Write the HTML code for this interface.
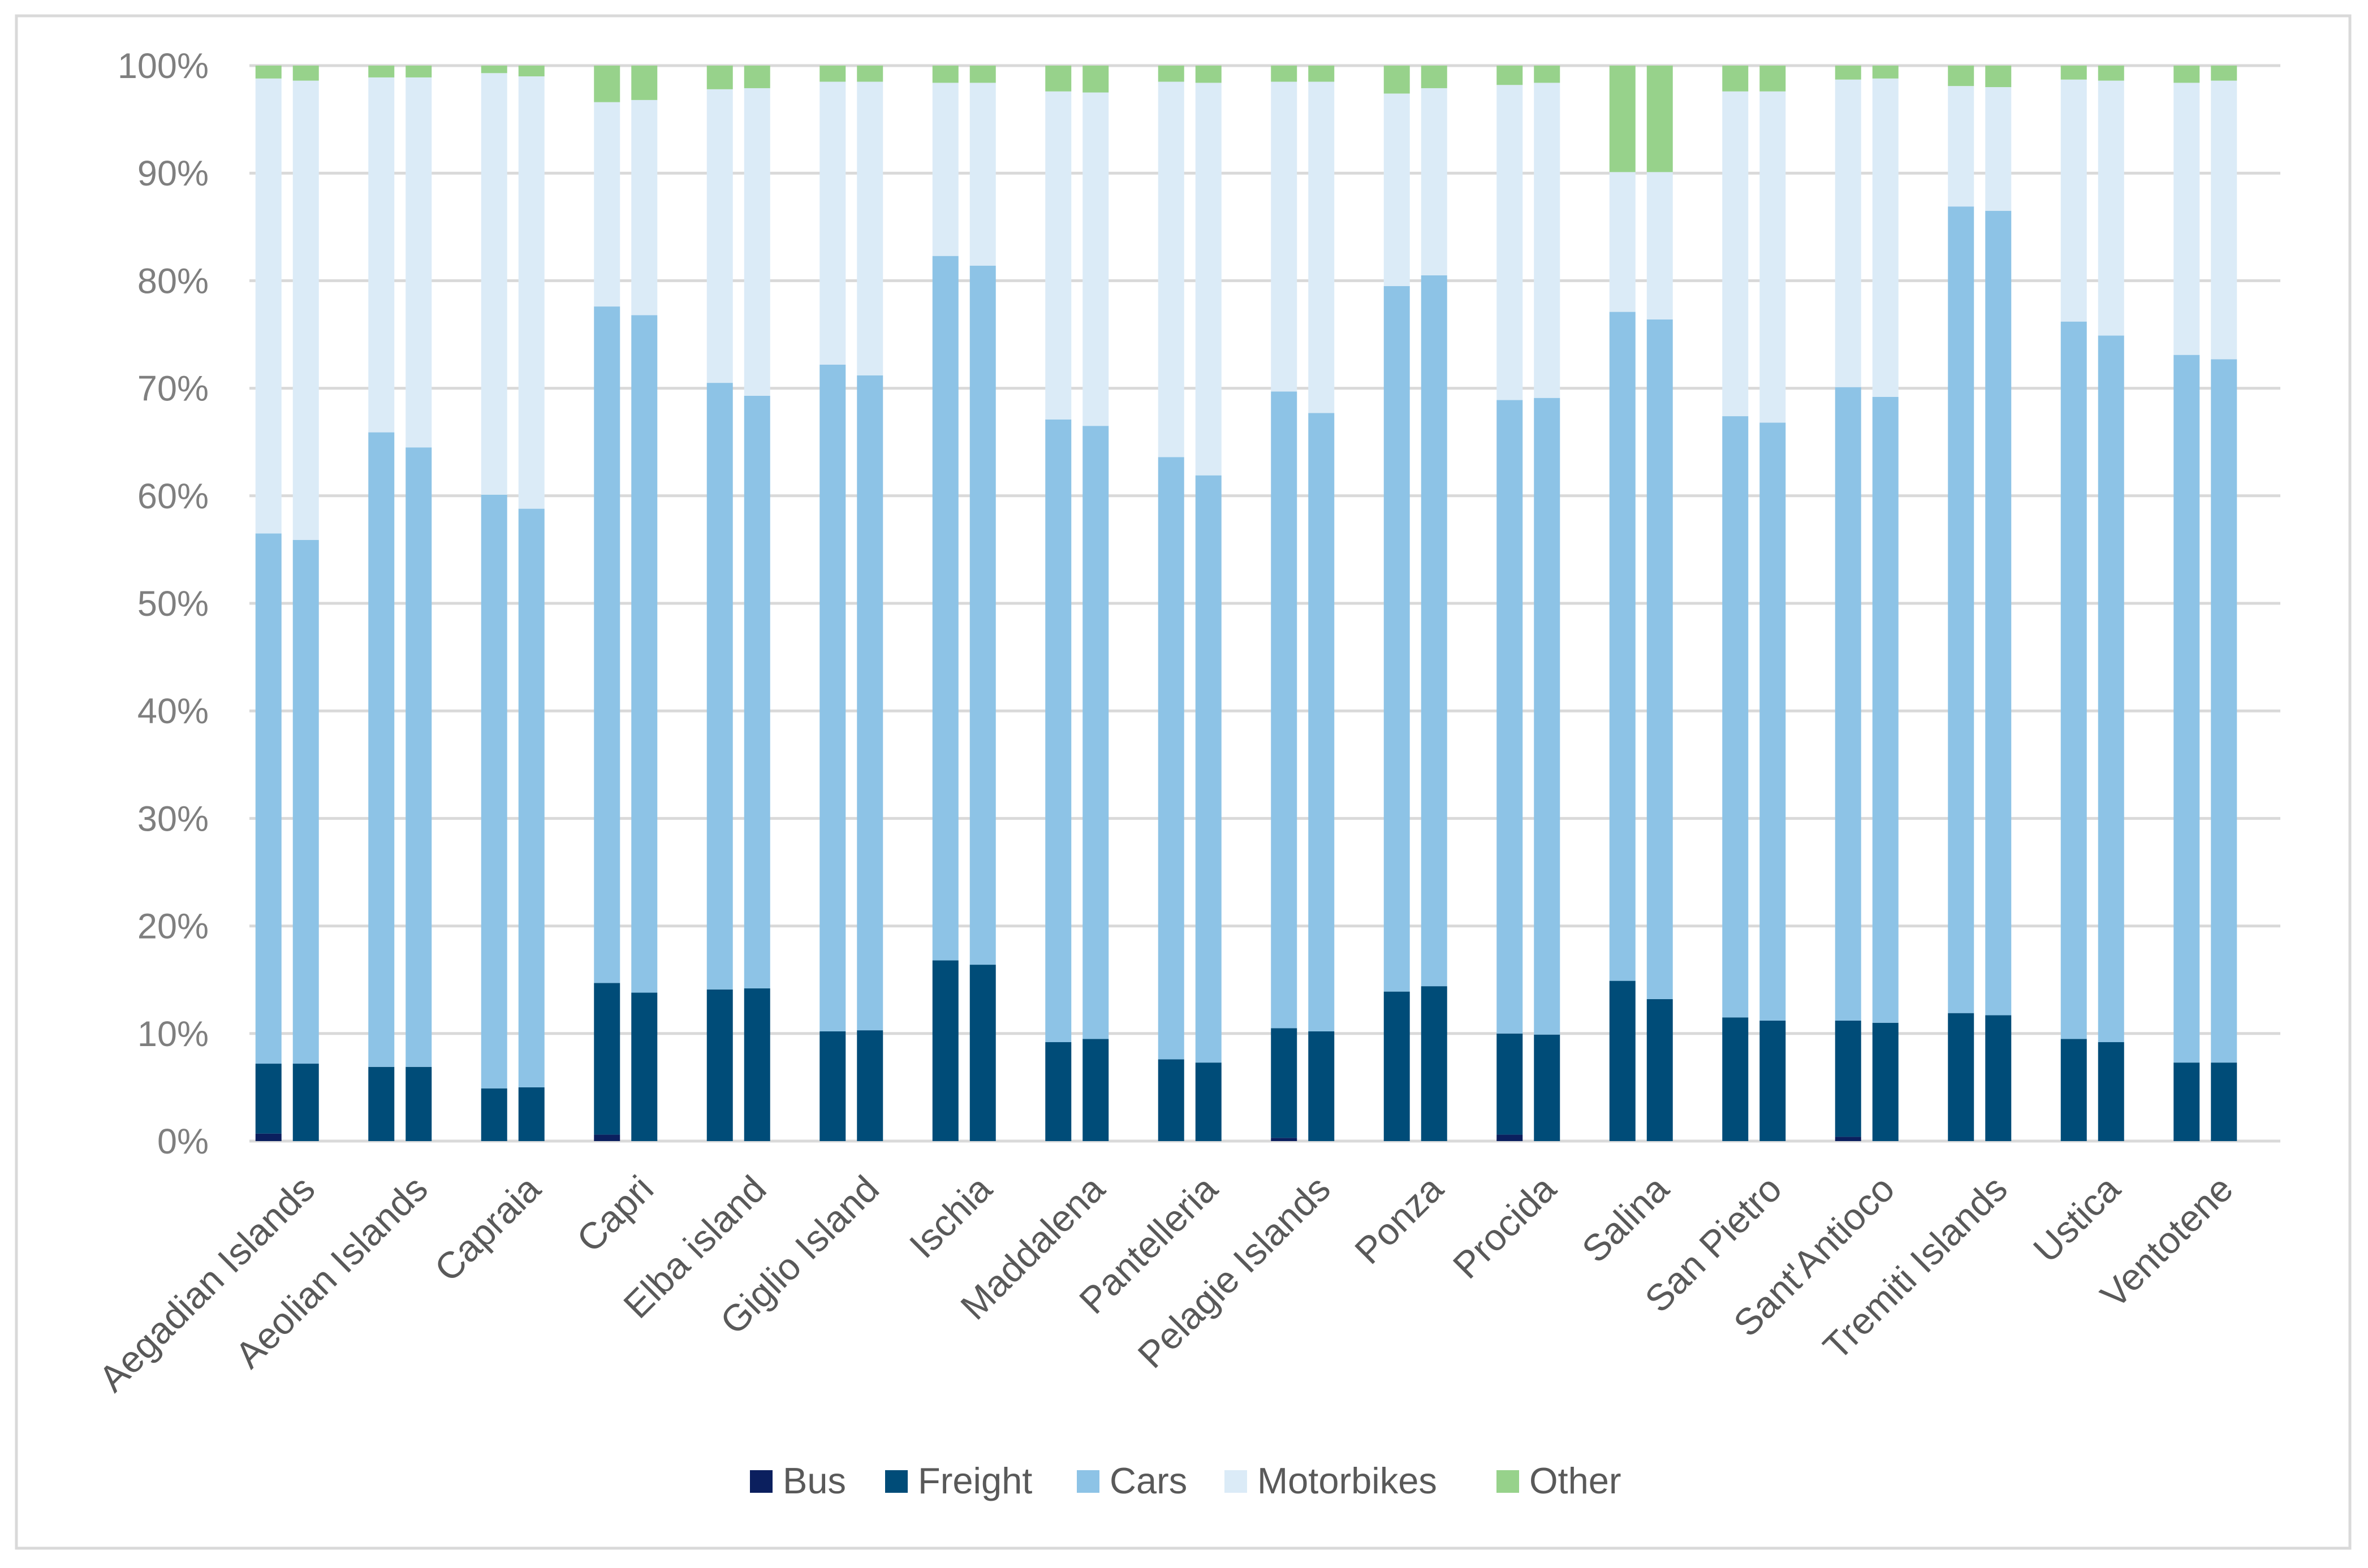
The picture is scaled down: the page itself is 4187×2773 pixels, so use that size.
<!DOCTYPE html>
<html><head><meta charset="utf-8"><style>
html,body{margin:0;padding:0;background:#fff;}
svg{display:block;font-family:"Liberation Sans",Arial,sans-serif;}
</style></head><body>
<svg id="chart" width="4187" height="2773" viewBox="0 0 4187 2773" xmlns="http://www.w3.org/2000/svg">
<rect x="0" y="0" width="4187" height="2773" fill="#fff"/>
<rect x="29" y="28" width="4126" height="2710" fill="none" stroke="#d9d9d9" stroke-width="5"/>
<g id="grid"></g>
<g id="yticks"></g>
<g id="bars"></g>
<g id="xlabels"></g>
<g id="legend"></g>
</svg>
<script>
const categories = ["Aegadian Islands","Aeolian Islands","Capraia","Capri","Elba island","Giglio Island","Ischia","Maddalena","Pantelleria","Pelagie Islands","Ponza","Procida","Salina","San Pietro","Sant'Antioco","Tremiti Islands","Ustica","Ventotene"];
const seriesNames = ["Bus","Freight","Cars","Motorbikes","Other"];
const yTickLabels = ["0%","10%","20%","30%","40%","50%","60%","70%","80%","90%","100%"];
const yTickValues = [0,10,20,30,40,50,60,70,80,90,100];
// first bar of each pair
const busA = [0.7,0,0,0.6,0,0,0,0,0,0.3,0,0.6,0,0,0.4,0,0,0];
const freightA = [6.5,6.9,4.9,14.1,14.1,10.2,16.8,9.2,7.6,10.2,13.9,9.4,14.9,11.5,10.8,11.9,9.5,7.3];
const carsA = [49.3,59.0,55.2,62.9,56.4,62.0,65.5,57.9,56.0,59.2,65.6,58.9,62.2,55.9,58.9,75.0,66.7,65.8];
const motoA = [42.3,33.0,39.2,19.0,27.3,26.3,16.1,30.5,34.9,28.8,17.9,29.3,13.0,30.2,28.6,11.2,22.5,25.3];
const otherA = [1.2,1.1,0.7,3.4,2.2,1.5,1.6,2.4,1.5,1.5,2.6,1.8,9.9,2.4,1.3,1.9,1.3,1.6];
// second bar of each pair
const busB = [0,0,0,0,0,0,0,0,0,0,0,0,0,0,0,0,0,0];
const freightB = [7.2,6.9,5.0,13.8,14.2,10.3,16.4,9.5,7.3,10.2,14.4,9.9,13.2,11.2,11.0,11.7,9.2,7.3];
const carsB = [48.7,57.6,53.8,63.0,55.1,60.9,65.0,57.0,54.6,57.5,66.1,59.2,63.2,55.6,58.2,74.8,65.7,65.4];
const motoB = [42.7,34.4,40.2,20.0,28.6,27.3,17.0,31.0,36.5,30.8,17.4,29.3,13.7,30.8,29.6,11.5,23.7,25.9];
const otherB = [1.4,1.1,1.0,3.2,2.1,1.5,1.6,2.5,1.6,1.5,2.1,1.6,9.9,2.4,1.2,2.0,1.4,1.4];

const colors = ["#0b1f5e","#004c78","#8dc3e6","#dbebf7","#97d28b"];
const NS = "http://www.w3.org/2000/svg";
const PL = 441, PR = 4032, PT = 116, PB = 2018;
const groupW = (PR - PL) / categories.length;
const barW = 46;
function yScale(v){ return PB - (v/100)*(PB-PT); }
function xCenter(i){ return PL + groupW*(i+0.5); }
function mk(tag, attrs, parent){ const e=document.createElementNS(NS,tag); for(const k in attrs) e.setAttribute(k,attrs[k]); parent.appendChild(e); return e; }

const grid = document.getElementById('grid');
const yt = document.getElementById('yticks');
yTickValues.forEach((v,i)=>{
  const l = mk('line',{x1:PL,x2:PR,y1:yScale(v),y2:yScale(v),stroke:'#d9d9d9','stroke-width':5},grid);
  
  
  const t = mk('text',{x:369,y:yScale(v)+22,'text-anchor':'end','font-size':63,fill:'#7f7f7f'},yt);
  t.textContent = yTickLabels[i];
  
  
});

const bars = document.getElementById('bars');
const setsA = [busA,freightA,carsA,motoA,otherA];
const setsB = [busB,freightB,carsB,motoB,otherB];
function drawStack(sets, i, cx, tag){
  let cum = 0;
  sets.forEach((arr,s)=>{
    const v = arr[i];
    if(v<=0){ return; }
    const y0 = yScale(cum), y1 = yScale(cum+v);
    const r = mk('rect',{x:cx-barW/2,y:y1,width:barW,height:y0-y1,fill:colors[s]},bars);
    
    
    cum += v;
  });
}
categories.forEach((c,i)=>{
  const cx = xCenter(i);
  drawStack(setsA, i, cx-66, 'a');
  drawStack(setsB, i, cx, 'b');
});

const xl = document.getElementById('xlabels');
categories.forEach((c,i)=>{
  const x = xCenter(i)+20, y = 2107;
  const t = mk('text',{x:x,y:y,'text-anchor':'end','font-size':66,fill:'#595959',transform:'rotate(-45 '+x+' '+y+')'},xl);
  t.textContent = c;
  
  
});

const lg = document.getElementById('legend');
const legX = [1326,1565,1904,2165,2646];
seriesNames.forEach((n,s)=>{
  const r = mk('rect',{x:legX[s],y:2600,width:40,height:40,fill:colors[s]},lg);
  
  
  const t = mk('text',{x:legX[s]+58,y:2641,'font-size':65,fill:'#595959'},lg);
  t.textContent = n;
  
  
});
</script>
</body></html>
